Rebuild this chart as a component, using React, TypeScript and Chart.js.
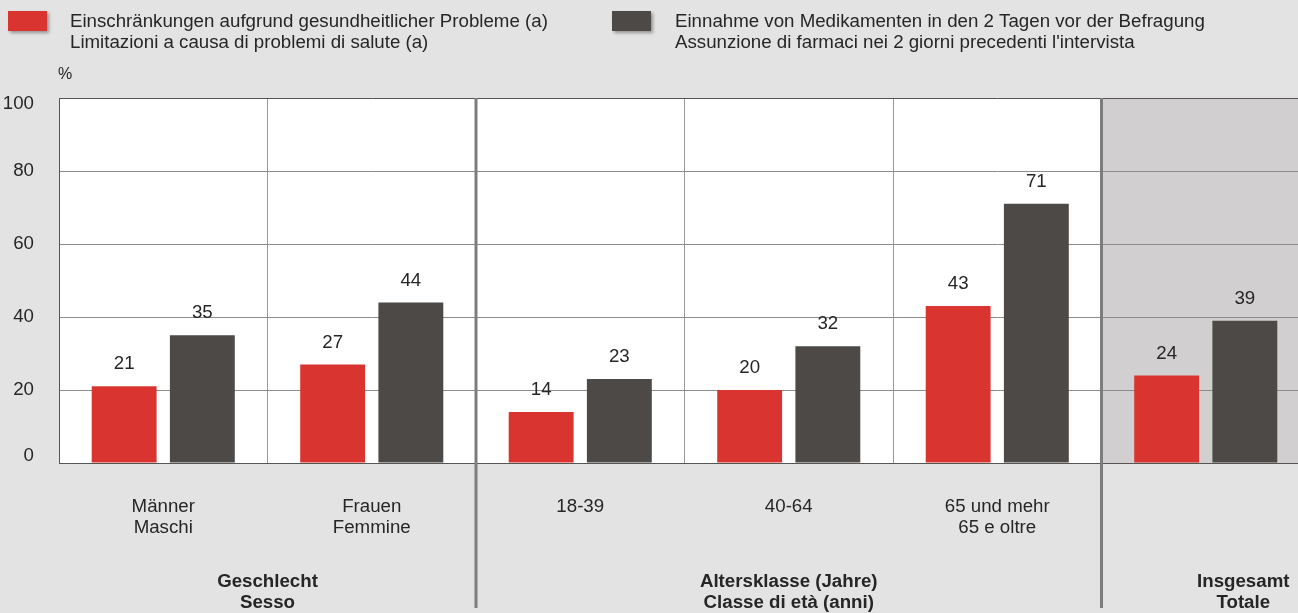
import React, { useEffect, useRef } from "react";
import { Chart, registerables } from "chart.js";

Chart.register(...registerables);

const categories: string[][] = [
  ["Männer", "Maschi"],
  ["Frauen", "Femmine"],
  ["18-39"],
  ["40-64"],
  ["65 und mehr", "65 e oltre"],
  [""],
];
const limitations: number[] = [21, 27, 14, 20, 43, 24];
const medication: number[] = [35, 44, 23, 32, 71, 39];
const seriesNames: string[][] = [
  ["Einschränkungen aufgrund gesundheitlicher Probleme (a)", "Limitazioni a causa di problemi di salute (a)"],
  ["Einnahme von Medikamenten in den 2 Tagen vor der Befragung", "Assunzione di farmaci nei 2 giorni precedenti l'intervista"],
];
const yTicks: number[] = [0, 20, 40, 60, 80, 100];
const groupLabels: string[][] = [
  ["Geschlecht", "Sesso"],
  ["Altersklasse (Jahre)", "Classe di età (anni)"],
  ["Insgesamt", "Totale"],
];
const groupAnchors: number[] = [0.5, 3, 5.18];
const separatorsAfter: number[] = [1, 4];
const shadedIndex = 5;

const RED = "#d9342f";
const DARK = "#4d4946";
const BG = "#e3e3e3";
const SHADE = "#d2cfd0";
const TXT = "#262626";
const FONT = '"Liberation Sans", Arial, sans-serif';
const FS = "18.7px";

export default function App() {
  const ref = useRef<HTMLCanvasElement | null>(null);
  useEffect(() => {
    if (!ref.current) return;
    const plugin = {
      id: "custom",
      beforeDraw(chart: any) {
        const { ctx, chartArea } = chart;
        const x = chart.scales.x;
        ctx.save();
        ctx.fillStyle = BG;
        ctx.fillRect(0, 0, chart.width, chart.height);
        ctx.fillStyle = "#ffffff";
        ctx.fillRect(chartArea.left, chartArea.top, chartArea.right - chartArea.left, chartArea.bottom - chartArea.top);
        const sx = x.getPixelForValue(shadedIndex - 0.5);
        ctx.fillStyle = SHADE;
        ctx.fillRect(sx, chartArea.top, chartArea.right - sx, chartArea.bottom - chartArea.top);
        ctx.restore();
      },
      afterDraw(chart: any) {
        const { ctx, chartArea } = chart;
        const x = chart.scales.x;
        const y = chart.scales.y;
        ctx.save();
        // legend
        const legendItems = [
          { color: RED, sx: 8, tx: 70, lines: seriesNames[0] },
          { color: DARK, sx: 612, tx: 675, lines: seriesNames[1] },
        ];
        ctx.font = `${FS} ${FONT}`;
        ctx.textBaseline = "alphabetic";
        ctx.textAlign = "left";
        for (const it of legendItems) {
          ctx.save();
          ctx.shadowColor = "rgba(0,0,0,0.35)";
          ctx.shadowOffsetX = 2;
          ctx.shadowOffsetY = 2;
          ctx.shadowBlur = 3;
          ctx.fillStyle = it.color;
          ctx.fillRect(it.sx, 11, 39, 20);
          ctx.restore();
          ctx.fillStyle = TXT;
          ctx.fillText(it.lines[0], it.tx, 27);
          ctx.fillText(it.lines[1], it.tx, 48);
        }
        // percent sign
        ctx.font = `16px ${FONT}`;
        ctx.textAlign = "center";
        ctx.textBaseline = "middle";
        ctx.fillText("%", 65, 75);
        // y tick labels
        ctx.font = `${FS} ${FONT}`;
        ctx.textAlign = "right";
        for (const v of yTicks) {
          let py = y.getPixelForValue(v);
          if (v === 0) py -= 7;
          if (v === 100) py += 6;
          ctx.fillText(String(v), 34, py);
        }
        // separators
        ctx.strokeStyle = "#7d7d7d";
        ctx.lineWidth = 3;
        for (const s of separatorsAfter) {
          const px = x.getPixelForValue(s + 0.5);
          ctx.beginPath();
          ctx.moveTo(px, chartArea.top);
          ctx.lineTo(px, 608);
          ctx.stroke();
        }
        // category labels
        ctx.fillStyle = TXT;
        ctx.textAlign = "center";
        ctx.font = `${FS} ${FONT}`;
        categories.forEach((lines, i) => {
          const px = x.getPixelForValue(i);
          lines.forEach((l, j) => ctx.fillText(l, px, chartArea.bottom + 44 + j * 21));
        });
        // group labels
        ctx.font = `bold ${FS} ${FONT}`;
        groupLabels.forEach((lines, i) => {
          const px = x.getPixelForValue(groupAnchors[i]);
          lines.forEach((l, j) => ctx.fillText(l, px, chartArea.bottom + 119 + j * 21));
        });
        // data labels
        ctx.font = `${FS} ${FONT}`;
        chart.data.datasets.forEach((ds: any, di: number) => {
          const meta = chart.getDatasetMeta(di);
          meta.data.forEach((bar: any, i: number) => {
            ctx.fillText(String(ds.data[i]), bar.x, bar.y - 22);
          });
        });
        ctx.restore();
      },
    };
    const chart = new Chart(ref.current, {
      type: "bar",
      data: {
        labels: categories.map((c) => c.join(" ")),
        datasets: [
          { label: seriesNames[0][0], data: limitations, backgroundColor: RED, categoryPercentage: 0.75, barPercentage: 0.83 },
          { label: seriesNames[1][0], data: medication, backgroundColor: DARK, categoryPercentage: 0.75, barPercentage: 0.83 },
        ],
      },
      options: {
        responsive: false,
        animation: false,
        layout: { padding: { top: 98, right: 0, left: 0, bottom: 0 } },
        plugins: { legend: { display: false }, tooltip: { enabled: false } },
        scales: {
          x: {
            grid: { color: "#9a9a9a", lineWidth: 1, drawTicks: false, offset: true },
            border: { color: "#555555", width: 1 },
            ticks: { display: false },
            afterFit: (s: any) => { s.height = 150; },
          },
          y: {
            min: 0,
            max: 100,
            grid: { color: (c: any) => (c.tick && c.tick.value === 100 ? "#555555" : "#8c8c8c"), lineWidth: 1, drawTicks: false },
            border: { color: "#555555", width: 1 },
            ticks: { display: false, stepSize: 20 },
            afterFit: (s: any) => { s.width = 59; },
          },
        },
      },
      plugins: [plugin],
    });
    return () => chart.destroy();
  }, []);
  return (
    <div style={{ position: "fixed", left: 0, top: 0, width: 1298, height: 613, overflow: "hidden", background: BG }}>
      <canvas ref={ref} width={1310} height={613} style={{ width: 1310, height: 613, display: "block" }} />
    </div>
  );
}
